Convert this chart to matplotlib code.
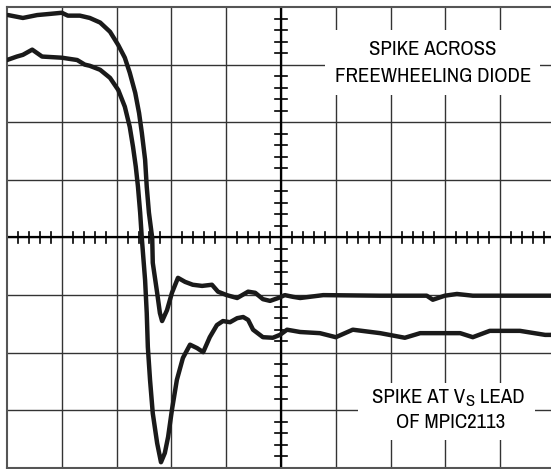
import matplotlib.pyplot as plt
from matplotlib.patches import Rectangle

FONTS = ['Nimbus Sans Narrow', 'Liberation Sans Narrow', 'Archivo Narrow', 'DejaVu Sans']
plt.rcParams['font.family'] = FONTS

# traces, in divisions (x: 0..10, y: 0..8)
diode_x = [0.02, 0.29, 0.55, 0.78, 1.00, 1.11, 1.33, 1.51, 1.70, 1.88, 2.03, 2.15,
           2.24, 2.34, 2.41, 2.46, 2.52, 2.55, 2.59, 2.65, 2.66, 2.74, 2.79, 2.83,
           2.92, 3.01, 3.12, 3.25, 3.39, 3.56, 3.74, 3.85, 4.01, 4.20, 4.40, 4.53,
           4.67, 4.80, 4.95, 5.07, 5.22, 5.35, 5.77, 6.81, 7.66, 7.77, 7.99, 8.21,
           8.50, 9.93]
diode_y = [7.86, 7.81, 7.86, 7.88, 7.90, 7.85, 7.85, 7.81, 7.73, 7.57, 7.34, 7.12,
           6.86, 6.51, 6.16, 5.82, 5.35, 4.88, 4.43, 3.99, 3.56, 3.04, 2.69, 2.55,
           2.74, 3.04, 3.30, 3.23, 3.18, 3.16, 3.18, 3.06, 3.00, 2.95, 3.06, 3.04,
           2.93, 2.90, 2.95, 3.00, 2.97, 2.95, 3.00, 2.99, 2.99, 2.92, 2.99, 3.02,
           2.99, 2.99]

vs_x = [0.00, 0.18, 0.29, 0.46, 0.64, 1.00, 1.28, 1.42, 1.51, 1.70, 1.88, 2.03,
        2.15, 2.24, 2.30, 2.35, 2.39, 2.43, 2.46, 2.52, 2.55, 2.57, 2.61, 2.66,
        2.74, 2.81, 2.88, 2.94, 3.01, 3.10, 3.21, 3.34, 3.47, 3.58, 3.70, 3.83,
        3.94, 4.07, 4.20, 4.31, 4.40, 4.49, 4.67, 4.85, 4.98, 5.11, 5.35, 5.71,
        6.00, 6.31, 6.81, 7.26, 7.54, 8.27, 8.50, 8.81, 9.36, 9.82, 9.93]
vs_y = [7.08, 7.14, 7.17, 7.26, 7.14, 7.12, 7.08, 7.00, 6.98, 6.91, 6.77, 6.56,
        6.27, 5.92, 5.57, 5.23, 4.88, 4.43, 3.99, 3.26, 2.69, 2.10, 1.53, 0.95,
        0.43, 0.10, 0.26, 0.54, 1.01, 1.53, 1.91, 2.14, 2.08, 2.01, 2.27, 2.48,
        2.55, 2.53, 2.60, 2.62, 2.57, 2.40, 2.27, 2.26, 2.31, 2.40, 2.36, 2.34,
        2.27, 2.40, 2.34, 2.26, 2.34, 2.34, 2.27, 2.38, 2.38, 2.31, 2.31]

label_top = ['SPIKE ACROSS', 'FREEWHEELING DIODE']
label_bottom = [('SPIKE AT V', 'S', ' LEAD'), 'OF MPIC2113']

fig = plt.figure(figsize=(5.51, 4.69), dpi=100)
ax = fig.add_axes([7 / 551, 1 / 469, 548 / 551, 461 / 469])
ax.set_xlim(0, 10)
ax.set_ylim(0, 8)
ax.set_xticks([])
ax.set_yticks([])
for s in ax.spines.values():
    s.set_color('#555555')
    s.set_linewidth(1.5)

# graticule
grid_c = '#333333'
for k in range(1, 10):
    ax.axvline(k, color=grid_c, lw=1.0, zorder=1)
for k in range(1, 8):
    ax.axhline(k, color=grid_c, lw=1.0, zorder=1)
ax.axvline(5, color='black', lw=1.6, zorder=2)
ax.axhline(4, color='black', lw=1.6, zorder=2)
for i in range(1, 50):
    if i % 5:
        ax.plot([i * 0.2, i * 0.2], [3.91, 4.09], color='black', lw=1.2, zorder=2)
for i in range(1, 40):
    if i % 5:
        ax.plot([4.89, 5.11], [i * 0.2, i * 0.2], color='black', lw=1.2, zorder=2)

# white boxes behind the labels
ax.add_patch(Rectangle((5.80, 6.48), 3.93, 1.12, facecolor='white', edgecolor='none', zorder=3))
ax.add_patch(Rectangle((6.41, 0.49), 3.23, 0.99, facecolor='white', edgecolor='none', zorder=3))

fs = 15
ax.text(7.77, 7.26, label_top[0], ha='center', va='center', fontsize=fs, zorder=4)
ax.text(7.77, 6.79, label_top[1], ha='center', va='center', fontsize=fs, zorder=4)

# first bottom line: V with a big, lowered S subscript
pre, sub, post = label_bottom[0]
t1 = ax.text(6.66, 1.13, pre, ha='left', va='baseline', fontsize=fs, zorder=4)
t2 = ax.annotate(sub, xy=(1, 0), xycoords=t1, xytext=(0.3, 0.5),
                 textcoords='offset points', ha='left', va='baseline',
                 fontsize=fs * 0.8, zorder=4)
ax.annotate(post, xy=(1, 0), xycoords=(t2, t1), ha='left', va='bottom',
            fontsize=fs, zorder=4)
ax.text(8.10, 0.79, label_bottom[1], ha='center', va='center', fontsize=fs, zorder=4)

ax.plot(diode_x, diode_y, color='#1a1a1a', lw=3.2, solid_joinstyle='round',
        solid_capstyle='round', zorder=5)
ax.plot(vs_x, vs_y, color='#1a1a1a', lw=3.2, solid_joinstyle='round',
        solid_capstyle='round', zorder=5)

fig.savefig('out.png', dpi=100)
